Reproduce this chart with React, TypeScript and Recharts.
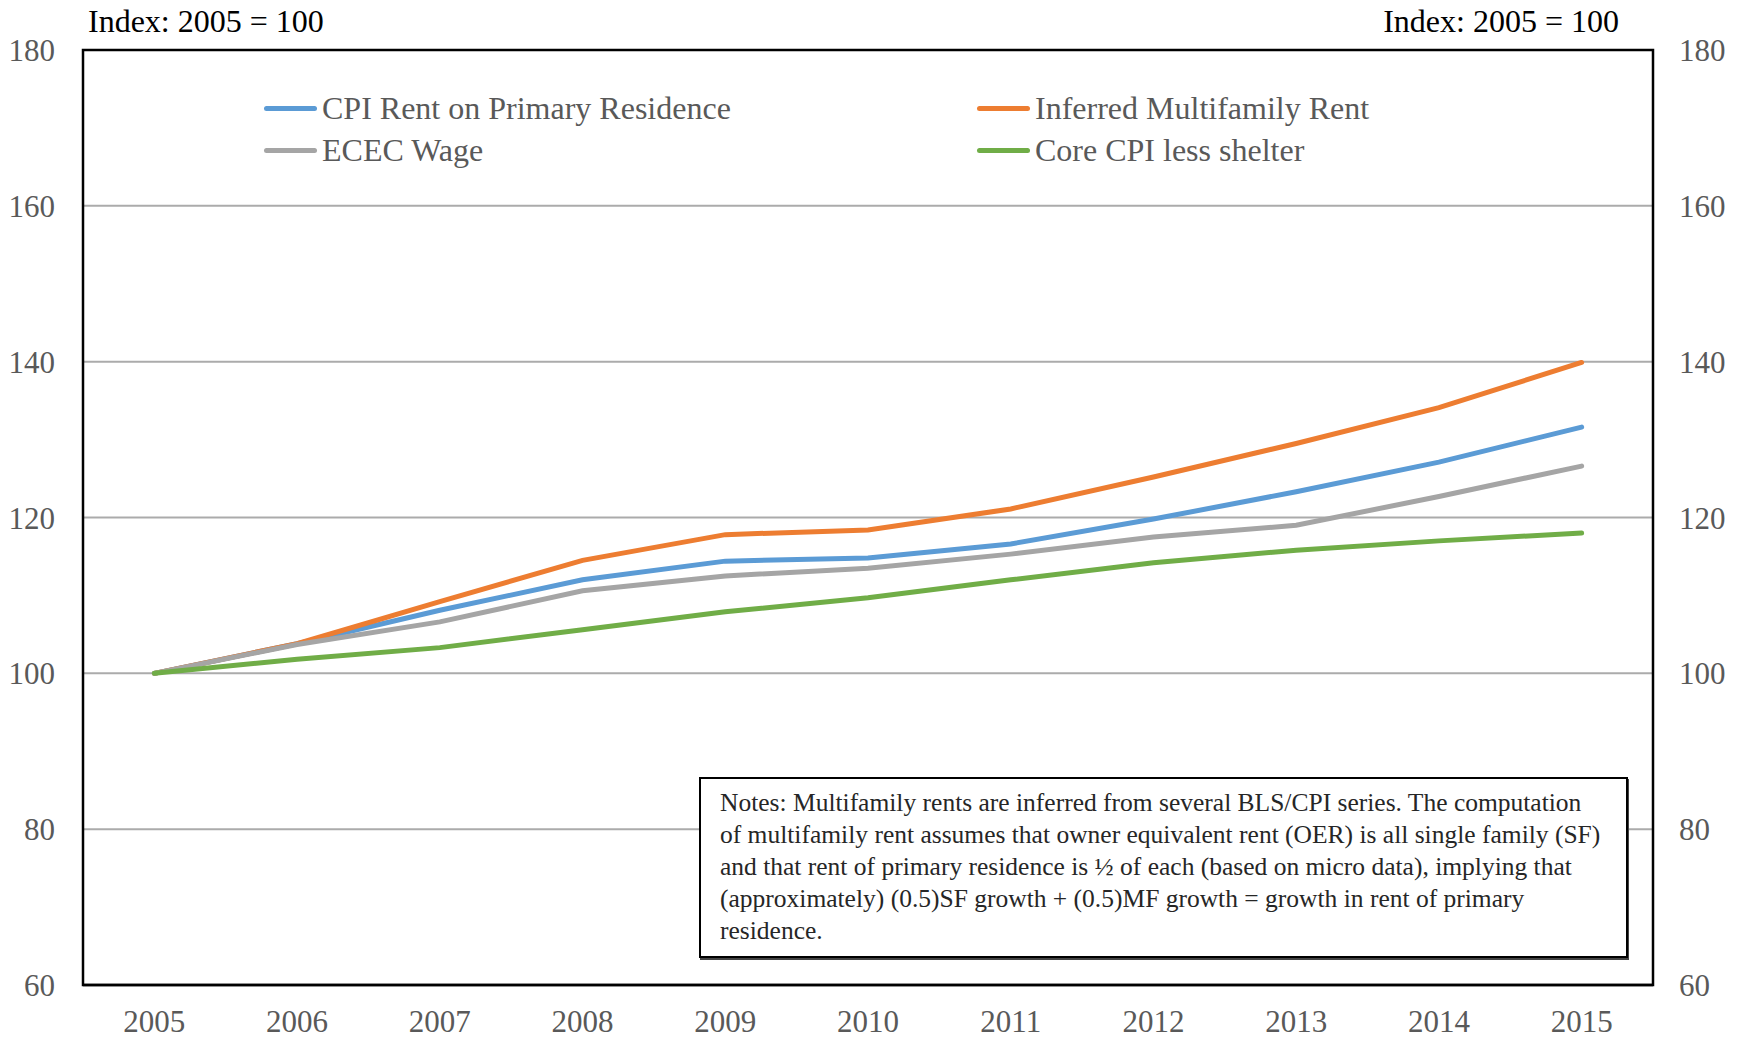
import {
  CartesianGrid,
  Legend,
  Line,
  LineChart,
  ReferenceArea,
  XAxis,
  YAxis,
} from "recharts";

const years = ["2005", "2006", "2007", "2008", "2009", "2010", "2011", "2012", "2013", "2014", "2015"];
const cpiRent = [100, 103.8, 108.1, 112.0, 114.4, 114.8, 116.6, 119.8, 123.3, 127.1, 131.6];
const multifamilyRent = [100, 103.8, 109.2, 114.5, 117.8, 118.4, 121.1, 125.2, 129.5, 134.1, 139.9];
const ececWage = [100, 103.7, 106.6, 110.6, 112.5, 113.5, 115.3, 117.5, 119.0, 122.7, 126.6];
const coreCpiLessShelter = [100, 101.8, 103.3, 105.6, 107.9, 109.7, 112.0, 114.2, 115.8, 117.0, 118.0];
const yTicks = [60, 80, 100, 120, 140, 160, 180];
const legendOrder = [
  "CPI Rent on Primary Residence",
  "Inferred Multifamily Rent",
  "ECEC Wage",
  "Core CPI less shelter",
];
const noteLines = [
  "Notes: Multifamily rents are inferred from several BLS/CPI series. The computation",
  "of multifamily rent assumes that owner equivalent rent (OER) is all single family (SF)",
  "and that rent of primary residence is ½ of each (based on micro data), implying that",
  "(approximately) (0.5)SF growth + (0.5)MF growth = growth in rent of primary",
  "residence.",
];

const data = years.map((year, i) => ({
  year,
  cpiRent: cpiRent[i],
  multifamilyRent: multifamilyRent[i],
  ececWage: ececWage[i],
  coreCpi: coreCpiLessShelter[i],
}));

const FONT = '"Liberation Serif", "Times New Roman", serif';
const TICK = { fill: "#595959", fontSize: 31, fontFamily: FONT };

function renderLegend(props: any) {
  const items = [...(props.payload || [])].sort(
    (a: any, b: any) => legendOrder.indexOf(a.value) - legendOrder.indexOf(b.value)
  );
  return (
    <div
      style={{
        display: "grid",
        gridTemplateColumns: "713px auto",
        fontFamily: FONT,
        fontSize: 32,
        color: "#595959",
      }}
    >
      {items.map((item: any) => (
        <div key={item.value} style={{ display: "flex", alignItems: "center", height: 42 }}>
          <span
            style={{
              display: "inline-block",
              width: 53,
              height: 5,
              borderRadius: 3,
              background: item.color,
              marginRight: 5,
            }}
          />
          <span>{item.value}</span>
        </div>
      ))}
    </div>
  );
}

export default function App() {
  return (
    <div style={{ position: "absolute", left: 0, top: 0, width: 1744, height: 1038, background: "#fff" }}>
      <LineChart
        width={1744}
        height={1038}
        data={data}
        margin={{ top: 50, right: 31, bottom: 0, left: 23 }}
      >
        <CartesianGrid vertical={false} stroke="#ababab" strokeWidth={2} yAxisId="left" />
        <XAxis
          dataKey="year"
          scale="band"
          height={53}
          tick={TICK}
          tickLine={false}
          tickSize={0}
          tickMargin={25}
          axisLine={{ stroke: "#000", strokeWidth: 2.5 }}
        />
        <YAxis
          yAxisId="left"
          domain={[60, 180]}
          ticks={yTicks}
          width={60}
          tick={TICK}
          tickLine={false}
          tickSize={0}
          tickMargin={28}
          axisLine={false}
        />
        <YAxis
          yAxisId="right"
          orientation="right"
          domain={[60, 180]}
          ticks={yTicks}
          allowDataOverflow
          width={60}
          tick={TICK}
          tickLine={false}
          tickSize={0}
          tickMargin={26}
          axisLine={false}
        />
        <ReferenceArea
          yAxisId="left"
          y1={60}
          y2={180}
          fill="none"
          stroke="#000"
          strokeWidth={2.5}
        />
        <Legend
          content={renderLegend}
          layout="horizontal"
          verticalAlign="middle"
          align="center"
          wrapperStyle={{ top: 87, left: 264, width: 1200, height: 84 }}
        />
        <Line
          yAxisId="left"
          dataKey="cpiRent"
          name="CPI Rent on Primary Residence"
          stroke="#5B9BD5"
          strokeWidth={5}
          strokeLinecap="round"
          dot={false}
          isAnimationActive={false}
        />
        <Line
          yAxisId="left"
          dataKey="multifamilyRent"
          name="Inferred Multifamily Rent"
          stroke="#ED7D31"
          strokeWidth={5}
          strokeLinecap="round"
          dot={false}
          isAnimationActive={false}
        />
        <Line
          yAxisId="left"
          dataKey="ececWage"
          name="ECEC Wage"
          stroke="#A5A5A5"
          strokeWidth={5}
          strokeLinecap="round"
          dot={false}
          isAnimationActive={false}
        />
        {/* same 60-180 scale as the left axis; bound here so the right axis draws its ticks */}
        <Line
          yAxisId="right"
          dataKey="coreCpi"
          name="Core CPI less shelter"
          stroke="#70AD47"
          strokeWidth={5}
          strokeLinecap="round"
          dot={false}
          isAnimationActive={false}
        />
      </LineChart>

      <div style={{ position: "absolute", left: 88, top: 3, fontFamily: FONT, fontSize: 32, color: "#000", whiteSpace: "nowrap" }}>
        Index: 2005 = 100
      </div>
      <div style={{ position: "absolute", right: 1744 - 1619, top: 3, fontFamily: FONT, fontSize: 32, color: "#000", whiteSpace: "nowrap" }}>
        Index: 2005 = 100
      </div>

      <div
        style={{
          position: "absolute",
          left: 699,
          top: 777,
          width: 929,
          height: 181,
          boxSizing: "border-box",
          border: "2px solid #000",
          boxShadow: "1px 2px 0 #444",
          background: "#fff",
          padding: "8px 0 0 19px",
          fontFamily: FONT,
          fontSize: 25.5,
          lineHeight: "32px",
          color: "#262626",
          whiteSpace: "nowrap",
        }}
      >
        {noteLines.map((line) => (
          <div key={line}>{line}</div>
        ))}
      </div>
    </div>
  );
}
